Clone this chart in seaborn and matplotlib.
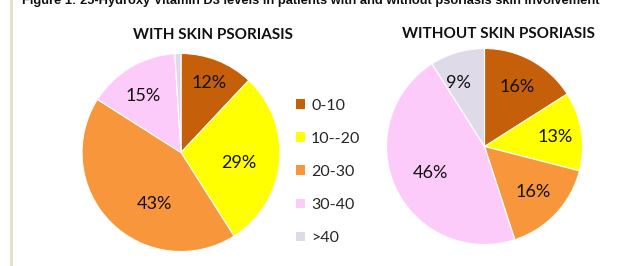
import numpy as np
import matplotlib
matplotlib.use("Agg")
import matplotlib.pyplot as plt
import seaborn as sns
from matplotlib.patches import Patch, Rectangle

sns.set_style("white")
plt.rcParams['font.family'] = ['Lato', 'DejaVu Sans']

# data
categories = ["0-10", "10--20", "20-30", "30-40", ">40"]
with_psoriasis = [12, 29, 43, 15, 1]
without_psoriasis = [16, 13, 16, 46, 9]
palette = ["#C65F0A", "#FFFF00", "#F7963A", "#FDCBFA", "#DEDAE8"]

caption = "Figure 1: 25-Hydroxy Vitamin D3 levels in patients with and without psoriasis skin involvement"

W, H = 625, 266
fig = plt.figure(figsize=(W / 100, H / 100), dpi=100)


def px_axes(cx, cy, r):
    return fig.add_axes([(cx - r) / W, 1 - (cy + r) / H, 2 * r / W, 2 * r / H])


def draw_pie(ax, values, dists, shifts):
    wedges, _, autotexts = ax.pie(
        values, colors=palette, startangle=90, counterclock=False, radius=1,
        autopct=lambda p: f"{p:.0f}%" if p >= 5 else "",
        wedgeprops=dict(edgecolor="white", linewidth=0.8),
        textprops=dict(fontsize=13, color="#111111"))
    # excel-like label placement: each label pushed along its wedge
    for w, t, d, s in zip(wedges, autotexts, dists, shifts):
        ang = np.deg2rad((w.theta1 + w.theta2) / 2 + s)
        t.set_position((d * np.cos(ang), d * np.sin(ang)))
    ax.set_xlim(-1, 1)
    ax.set_ylim(-1, 1)
    ax.set_aspect("equal")
    ax.axis("off")


ax1 = px_axes(181, 152.5, 99)
draw_pie(ax1, with_psoriasis, [0.76, 0.59, 0.58, 0.69, 0.7], [0, -5, 18, 3, 0])

ax2 = px_axes(484.5, 146.5, 98)
draw_pie(ax2, without_psoriasis, [0.69, 0.73, 0.68, 0.61, 0.70], [0, -1, 0, 1, 6])

# titles
fig.text(213 / W, 1 - 35 / H, "WITH SKIN PSORIASIS", ha="center", va="center",
         fontsize=11, fontweight="bold", color="#111111")
fig.text(498 / W, 1 - 33.5 / H, "WITHOUT SKIN PSORIASIS", ha="center", va="center",
         fontsize=11, fontweight="bold", color="#111111")

# legend
handles = [Patch(facecolor=c, edgecolor="none") for c in palette]
fig.legend(handles, categories, loc="upper left", bbox_to_anchor=(296 / W, 1 - 98.5 / H),
           frameon=False, fontsize=11.5, handlelength=0.55, handleheight=0.55,
           handletextpad=0.4, labelspacing=1.2, borderpad=0, borderaxespad=0)

# cropped caption and page margin line from the source document
fig.text(22 / W, 1 - 4 / H, caption, ha="left", va="baseline", fontsize=9.3,
         fontweight="bold", family=["Liberation Sans", "DejaVu Sans"], color="#111111")
fig.patches.append(Rectangle((10 / W, 0), 3 / W, 1, transform=fig.transFigure,
                             facecolor="#E7DFC9", edgecolor="none"))

fig.savefig("out.png", dpi=100)
